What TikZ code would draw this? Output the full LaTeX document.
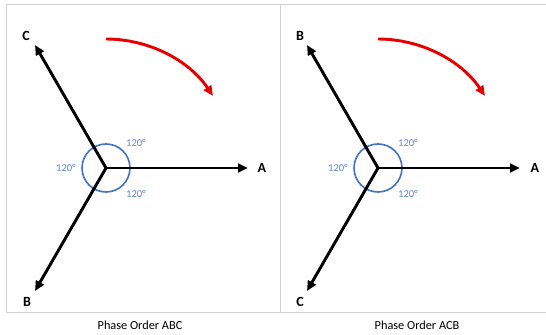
\documentclass[tikz,border=0pt]{standalone}
\usepackage{fontspec}
\setmainfont{Carlito}
\usepackage{xcolor}
\usetikzlibrary{arrows.meta,calc}
\definecolor{angblue}{RGB}{68,114,196}
\definecolor{rotred}{RGB}{230,0,0}

\begin{document}
\begin{tikzpicture}[x=0.03cm,y=0.03cm,
 phasor/.style={line width=2.5pt,-{Triangle[length=8.5pt,width=7.5pt]}},
 rot/.style={line width=2.5pt,rotred,-{Triangle[length=8.5pt,width=7.5pt]}},
 ang/.style={angblue,line width=1.4pt},
 lbl/.style={font=\fontsize{12}{14}\selectfont\bfseries},
 deg/.style={font=\fontsize{9}{10}\selectfont,text=angblue!85},
 ttl/.style={font=\fontsize{10.5}{12}\selectfont}]
\useasboundingbox (0,0) rectangle (546,335);
% frames
\draw[gray!35,line width=0.8pt] (6,23) -- (6,330.5) -- (546,330.5);
\draw[gray!35,line width=0.8pt] (6,23) -- (546,23);
\draw[gray!35,line width=0.8pt] (280,23) -- (280,330.5);
% left: phase order ABC
\coordinate (o1) at (106,167);
\coordinate (a1) at ($(o1)+(0:142)$);
\coordinate (c1) at ($(o1)+(120:142)$);
\coordinate (b1) at ($(o1)+(240:142)$);
\draw[ang] (o1) circle (24);
\draw[phasor] (o1) -- (a1);
\draw[phasor] (o1) -- (c1);
\draw[phasor] (o1) -- (b1);
\node[lbl] (la1) at (262,167) {A};
\node[lbl] (lc1) at (26,299) {C};
\node[lbl] (lb1) at (27,33) {B};
\node[deg] (d1a) at (136,192) {120°};
\node[deg] (d1b) at (66,167) {120°};
\node[deg] (d1c) at (136,141) {120°};
\coordinate (s1) at ($(o1)+(90:129)$);
\draw[rot] (s1) arc[start angle=90,end angle=34,radius=129];
\node[ttl] (t1) at (140,10) {Phase Order ABC};
% right: phase order ACB
\coordinate (o2) at (378,167);
\coordinate (a2) at ($(o2)+(0:142)$);
\coordinate (b2) at ($(o2)+(120:142)$);
\coordinate (c2) at ($(o2)+(240:142)$);
\draw[ang] (o2) circle (24);
\draw[phasor] (o2) -- (a2);
\draw[phasor] (o2) -- (b2);
\draw[phasor] (o2) -- (c2);
\node[lbl] (la2) at (535,167) {A};
\node[lbl] (lb2) at (300,299) {B};
\node[lbl] (lc2) at (300,33) {C};
\node[deg] (d2a) at (408,192) {120°};
\node[deg] (d2b) at (338,167) {120°};
\node[deg] (d2c) at (408,141) {120°};
\coordinate (s2) at ($(o2)+(90:129)$);
\draw[rot] (s2) arc[start angle=90,end angle=34,radius=129];
\node[ttl] (t2) at (417,10) {Phase Order ACB};
\end{tikzpicture}
\end{document}
